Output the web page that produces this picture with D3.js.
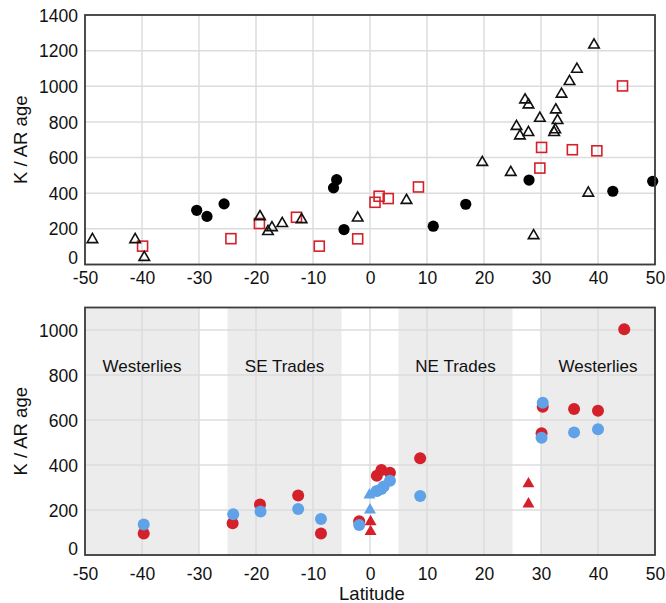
<!DOCTYPE html>
<html>
<head>
<meta charset="utf-8">
<script src="https://cdn.jsdelivr.net/npm/d3@7"></script>
<style>
  html, body { margin: 0; padding: 0; background: #fff; }
  svg { display: block; font-family: "Liberation Sans", Arial, Helvetica, sans-serif; }
</style>
</head>
<body>
<svg id="chart" width="666" height="603"></svg>
<script>
// Upper panel: K/Ar ages by latitude, three sample groups
const topCircles = [
  [-30.4, 304], [-28.6, 270], [-25.6, 340], [-6.4, 430], [-5.85, 476], [-4.56, 196],
  [11.1, 215], [16.8, 338], [27.9, 474], [42.6, 411], [49.6, 467]
];
const topTriangles = [
  [-48.7, 140], [-41.2, 140], [-39.6, 40], [-19.3, 269], [-17.9, 185], [-17.2, 207],
  [-15.4, 230], [-12.0, 252], [-2.16, 261], [6.4, 360], [19.7, 573], [24.7, 517],
  [25.7, 775], [26.3, 722], [27.8, 741], [27.2, 924], [27.8, 896], [28.7, 162],
  [29.8, 821], [32.6, 868], [32.9, 808], [32.5, 756], [32.3, 741], [33.6, 956],
  [35.0, 1027], [36.3, 1096], [39.3, 1232], [38.3, 401]
];
const topSquares = [
  [-39.9, 103], [-24.4, 145], [-19.4, 230], [-12.9, 265], [-8.9, 103], [-2.16, 144],
  [0.88, 349], [1.6, 383], [3.2, 370], [8.5, 435], [30.1, 657], [29.8, 541],
  [35.5, 644], [39.8, 638], [44.3, 1002]
];

// Lower panel: red and blue estimates, with wind belts behind
const redCircles = [
  [-39.7, 96], [-24.1, 141], [-19.3, 225], [-12.6, 264], [-8.6, 96], [-1.9, 150],
  [1.2, 352], [2.0, 378], [3.5, 366], [8.8, 430], [30.3, 659], [30.1, 541],
  [35.8, 649], [40.0, 641], [44.6, 1003]
];
const blueCircles = [
  [-39.7, 136], [-24.0, 181], [-19.2, 193], [-12.6, 204], [-8.6, 160], [-1.9, 133],
  [1.2, 284], [2.0, 293], [2.4, 304], [3.5, 330], [8.8, 262], [30.3, 677],
  [30.1, 521], [35.8, 545], [40.0, 559]
];
const blueTriangles = [[0.0, 200], [-0.1, 267], [0.5, 275]];
const redTriangles = [[0.1, 148], [0.1, 104], [27.8, 316], [27.8, 227]];

const windBelts = [
  { name: "Westerlies", from: -50, to: -30, at: -40 },
  { name: "SE Trades", from: -25, to: -5, at: -15 },
  { name: "NE Trades", from: 5, to: 25, at: 15 },
  { name: "Westerlies", from: 30, to: 50, at: 40 }
];

const latTicks = [-50, -40, -30, -20, -10, 0, 10, 20, 30, 40, 50];
const topAgeTicks = [0, 200, 400, 600, 800, 1000, 1200, 1400];
const bottomAgeTicks = [0, 200, 400, 600, 800, 1000];

const RED = "#d3202a";
const BLUE = "#5fa2e8";
const FRAME = "#3c3c3c";
const TXT = "#111";

const svg = d3.select("#chart");

const x = d3.scaleLinear().domain([-50, 50]).range([85, 655]);
const yTop = d3.scaleLinear().domain([0, 1400]).range([264.5, 15]);
const yBot = d3.scaleLinear().domain([0, 1100]).range([555, 307.5]);

// plain hyphen for negatives
const fmt = d => String(d);

function grid(g, y, yTicks) {
  const [y0, y1] = y.range();
  g.append("g").selectAll("line").data(latTicks).join("line")
    .attr("x1", d => x(d)).attr("x2", d => x(d)).attr("y1", y1).attr("y2", y0)
    .attr("stroke", "#dcdcdc").attr("stroke-width", 1.5);
  g.append("g").selectAll("line").data(yTicks).join("line")
    .attr("x1", x.range()[0]).attr("x2", x.range()[1]).attr("y1", d => y(d)).attr("y2", d => y(d))
    .attr("stroke", "#dcdcdc").attr("stroke-width", 1.5);
}

function axes(g, y, yTicks, xLabelBaseline) {
  const [y0, y1] = y.range();
  const xa = g.append("g").attr("transform", `translate(0,${y0})`)
    .call(d3.axisBottom(x).tickValues(latTicks).tickSize(0).tickPadding(0).tickFormat(fmt));
  xa.select(".domain").remove();
  xa.selectAll("text").attr("y", xLabelBaseline - y0).attr("dy", 0)
    .attr("font-size", 17.5).attr("fill", TXT).attr("font-family", "Liberation Sans, Arial, sans-serif");
  const ya = g.append("g").attr("transform", `translate(${x.range()[0]},0)`)
    .call(d3.axisLeft(y).tickValues(yTicks).tickSize(0).tickPadding(7).tickFormat(fmt));
  ya.select(".domain").remove();
  ya.selectAll("text").attr("font-size", 17.5).attr("fill", TXT)
    .attr("dy", d => d === 0 ? "-0.05em" : "0.35em").attr("font-family", "Liberation Sans, Arial, sans-serif");
  g.append("rect")
    .attr("x", x.range()[0]).attr("y", y1)
    .attr("width", x.range()[1] - x.range()[0]).attr("height", y0 - y1)
    .attr("fill", "none").attr("stroke", FRAME).attr("stroke-width", 1.8);
}

function yTitle(g, y) {
  g.append("text")
    .attr("transform", `translate(27,${(y.range()[0] + y.range()[1]) / 2}) rotate(-90)`)
    .attr("text-anchor", "middle").attr("font-size", 18.5).attr("fill", TXT)
    .text("K / AR age");
}

// ---------- upper panel ----------
const gTop = svg.append("g");
grid(gTop, yTop, topAgeTicks);

gTop.append("g").selectAll("circle").data(topCircles).join("circle")
  .attr("cx", d => x(d[0])).attr("cy", d => yTop(d[1])).attr("r", 5.6)
  .attr("fill", "#000");

gTop.append("g").selectAll("rect").data(topSquares).join("rect")
  .attr("x", d => x(d[0]) - 5).attr("y", d => yTop(d[1]) - 5)
  .attr("width", 10).attr("height", 10)
  .attr("fill", "none").attr("stroke", RED).attr("stroke-width", 1.6);

gTop.append("g").selectAll("path").data(topTriangles).join("path")
  .attr("transform", d => `translate(${x(d[0])},${yTop(d[1])})`)
  .attr("d", d3.symbol(d3.symbolTriangle, 48))
  .attr("fill", "none").attr("stroke", "#111").attr("stroke-width", 1.6);

axes(gTop, yTop, topAgeTicks, 284);
yTitle(gTop, yTop);

// ---------- lower panel ----------
const gBot = svg.append("g");
gBot.append("g").selectAll("rect").data(windBelts).join("rect")
  .attr("x", d => x(d.from)).attr("width", d => x(d.to) - x(d.from))
  .attr("y", yBot.range()[1]).attr("height", yBot.range()[0] - yBot.range()[1])
  .attr("fill", "#ececec");
grid(gBot, yBot, bottomAgeTicks);

gBot.append("g").selectAll("text").data(windBelts).join("text")
  .attr("x", d => x(d.at)).attr("y", 372)
  .attr("text-anchor", "middle").attr("font-size", 17).attr("fill", TXT)
  .text(d => d.name);

gBot.append("g").selectAll("circle").data(redCircles).join("circle")
  .attr("cx", d => x(d[0])).attr("cy", d => yBot(d[1])).attr("r", 6)
  .attr("fill", RED);
gBot.append("g").selectAll("path").data(redTriangles).join("path")
  .attr("transform", d => `translate(${x(d[0])},${yBot(d[1])})`)
  .attr("d", d3.symbol(d3.symbolTriangle, 62))
  .attr("fill", RED);
gBot.append("g").selectAll("circle").data(blueCircles).join("circle")
  .attr("cx", d => x(d[0])).attr("cy", d => yBot(d[1])).attr("r", 6)
  .attr("fill", BLUE);
gBot.append("g").selectAll("path").data(blueTriangles).join("path")
  .attr("transform", d => `translate(${x(d[0])},${yBot(d[1])})`)
  .attr("d", d3.symbol(d3.symbolTriangle, 62))
  .attr("fill", BLUE);

axes(gBot, yBot, bottomAgeTicks, 580);
yTitle(gBot, yBot);

gBot.append("text")
  .attr("x", 372).attr("y", 600)
  .attr("text-anchor", "middle").attr("font-size", 18.5).attr("fill", TXT)
  .text("Latitude");
</script>
</body>
</html>
